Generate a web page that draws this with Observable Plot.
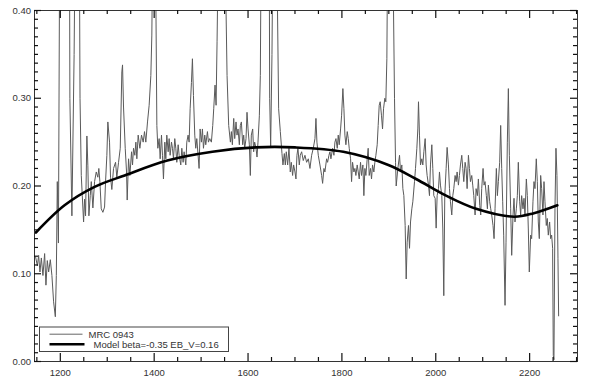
<!DOCTYPE html>
<html>
<head>
<meta charset="utf-8">
<script src="https://cdn.jsdelivr.net/npm/d3@7"></script>
<script src="https://cdn.jsdelivr.net/npm/@observablehq/plot@0.6"></script>
<style>
  html, body { margin: 0; padding: 0; background: #ffffff; }
  #chart { width: 591px; height: 385px; }
</style>
</head>
<body>
<div id="chart"></div>
<script>
const wavelength = [
  1147.4,1151.1,1153.8,1156.6,1159.6,1163.0,1166.6,1169.4,1172.3,1175.1,1178.7,1182.1,1185.7,1189.4,1191.5,1193.6,1196.0,
  1199.6,1205,1214,1218,1220.4,1224.7,1229.4,1231.9,1239.6,1242,1244.7,1246.8,1249.6,1251.7,1253.8,1256.6,1258.7,1260.9,
  1263.8,1266.0,1269.4,1273.0,1276.6,1280.0,1282.1,1284.3,1287.2,1290.7,1294.3,1296.4,1299.2,1301.3,1304.9,1307.0,1309.8,
  1313.4,1317.7,1320.4,1324.1,1327.7,1331.1,1332.6,1334.7,1338.3,1341.1,1342.5,1345.4,1348.2,1351.8,1353.9,1356.0,1358.8,
  1361.0,1363.1,1365.9,1369.5,1373.0,1376.6,1379.4,1382.2,1385.8,1389.3,1392.9,1395.0,1396.4,1400,1403.5,1405.7,1407.8,
  1410.6,1412.8,1415.6,1417.7,1419.8,1422.7,1424.8,1426.9,1429.8,1431.9,1434.0,1436.9,1439.0,1441.1,1443.9,1446.1,1448.2,
  1451.1,1453.2,1456.7,1458.9,1461.7,1463.8,1467.4,1469.5,1472.3,1474.5,1476.6,1479.4,1481.5,1483.7,1486.5,1488.6,1490.8,
  1493.6,1495.7,1497.9,1500.7,1502.8,1505.0,1507.8,1509.9,1513.5,1515.6,1518.4,1521.9,1524.8,1526.9,1529.7,1531.9,1534.0,
  1536.1,1545,1550,1551.7,1555.3,1558.8,1562.4,1564.5,1566.6,1569.5,1571.6,1574.4,1576.5,1578.7,1581.5,1583.6,1585.8,
  1588.6,1590.7,1592.9,1595.7,1597.8,1600.0,1602.8,1604.9,1607.0,1609.9,1612.0,1614.1,1617.0,1619.1,1621.2,1624.1,1626.2,
  1627.6,1635,1645,1646.1,1648.2,1651.0,1653.2,1660,1661.7,1665.2,1668.8,1672.3,1674.4,1677.3,1679.4,1681.5,1684.4,1687.2,
  1690.0,1692.2,1695.0,1697.1,1700.0,1702.1,1704.2,1706.3,1709.2,1711.3,1714.2,1717.7,1721.3,1724.8,1728.4,1731.9,1735.5,
  1739.0,1742.6,1744.7,1746.8,1749.7,1753.2,1756.8,1758.9,1761.7,1763.8,1767.4,1769.5,1772.4,1774.5,1776.6,1780.2,1783.0,
  1785.1,1787.3,1790.1,1792.2,1794.3,1797.2,1799.3,1802.1,1804.3,1806.4,1808.5,1811.4,1813.5,1815.6,1818.5,1820.6,1822.7,
  1825.6,1827.7,1829.8,1832.6,1834.8,1836.9,1839.7,1841.8,1844.7,1846.8,1849.0,1851.1,1853.9,1856.0,1858.2,1861.0,1863.1,
  1865.3,1868.1,1870.2,1872.4,1875.2,1877.3,1879.5,1881.6,1884.4,1886.6,1888.7,1891.5,1893.6,1895.8,1897.2,1900,1906,1908,
  1910.0,1912.1,1914.3,1915.7,1919.2,1922.8,1924.9,1927.7,1929.9,1932.0,1934.8,1937.0,1939.1,1941.9,1944.1,1946.2,1949.0,
  1951.1,1954.7,1956.8,1959.7,1961.8,1963.2,1965.3,1967.5,1970.3,1972.4,1974.6,1977.4,1979.5,1981.6,1984.5,1986.6,1988.7,
  1991.6,1993.7,1995.8,1998.7,2000.8,2002.9,2005.8,2007.9,2010.0,2012.9,2015.0,2017.1,2019.2,2022.1,2024.2,2027.0,2029.2,
  2031.3,2034.1,2036.3,2038.4,2041.2,2043.4,2045.5,2048.3,2050.4,2052.6,2055.4,2057.5,2059.7,2062.5,2064.6,2066.8,2069.6,
  2071.7,2073.9,2076.7,2078.8,2081.0,2083.8,2085.9,2088.7,2090.8,2093.7,2095.8,2097.9,2100.8,2102.9,2105.0,2107.8,2110.0,
  2112.1,2114.9,2117.1,2119.2,2122.0,2124.2,2126.3,2129.1,2131.3,2133.4,2136.2,2138.3,2140.5,2142.6,2144.7,2147.6,2149.7,
  2152.5,2154.7,2156.8,2159.6,2161.8,2164.6,2166.7,2168.8,2171.7,2173.8,2175.9,2178.8,2180.9,2183.0,2185.9,2188.0,2190.1,
  2193.0,2195.1,2197.2,2199.3,2202.2,2204.3,2207.1,2209.3,2211.4,2214.2,2216.4,2218.5,2220.6,2223.5,2225.6,2228.4,2230.6,
  2232.7,2235.5,2237.6,2239.8,2242.6,2244.7,2246.9,2249.0,2250.4,2251.8,2254.0,2256.1,2258.2,2260.4,2261.8
];
const flux = [
  0.119,0.109,0.121,0.102,0.118,0.098,0.123,0.087,0.115,0.102,0.116,0.098,0.068,0.051,0.098,0.205,0.135,
  0.6,0.9,1.2,0.8,0.3,0.166,0.35,0.5,0.6,0.3,0.212,0.189,0.159,0.185,0.166,0.257,0.223,0.166,
  0.189,0.205,0.175,0.205,0.216,0.21,0.22,0.205,0.174,0.17,0.176,0.205,0.235,0.273,0.25,0.21,0.196,
  0.22,0.227,0.21,0.227,0.243,0.33,0.338,0.29,0.243,0.216,0.184,0.231,0.212,0.239,0.224,0.243,0.235,
  0.250,0.231,0.258,0.243,0.258,0.250,0.262,0.250,0.273,0.292,0.326,0.372,0.45,0.55,0.42,0.269,0.243,
  0.254,0.231,0.258,0.235,0.208,0.250,0.231,0.258,0.239,0.254,0.235,0.250,0.243,0.231,0.254,0.243,0.227,
  0.247,0.235,0.224,0.243,0.227,0.239,0.224,0.250,0.258,0.250,0.288,0.318,0.345,0.303,0.258,0.243,0.254,
  0.235,0.220,0.265,0.250,0.265,0.243,0.258,0.247,0.262,0.250,0.254,0.250,0.269,0.288,0.315,0.292,0.365,
  0.45,0.8,0.7,0.45,0.326,0.269,0.250,0.262,0.247,0.277,0.254,0.273,0.258,0.265,0.247,0.269,0.273,
  0.247,0.258,0.243,0.254,0.284,0.265,0.247,0.212,0.258,0.265,0.239,0.250,0.243,0.233,0.250,0.280,0.326,
  0.45,0.6,0.5,0.3,0.245,0.35,0.5,0.6,0.45,0.288,0.262,0.237,0.224,0.237,0.224,0.239,0.224,0.243,
  0.216,0.227,0.212,0.224,0.216,0.208,0.235,0.243,0.224,0.235,0.239,0.229,0.235,0.227,0.231,0.220,0.235,
  0.243,0.254,0.277,0.250,0.235,0.224,0.212,0.203,0.220,0.216,0.231,0.227,0.235,0.239,0.231,0.243,0.235,
  0.250,0.254,0.243,0.258,0.247,0.265,0.280,0.311,0.288,0.258,0.247,0.262,0.254,0.243,0.231,0.205,0.227,
  0.216,0.220,0.212,0.224,0.216,0.208,0.227,0.212,0.224,0.189,0.220,0.212,0.231,0.243,0.212,0.220,0.208,
  0.224,0.216,0.227,0.235,0.247,0.269,0.292,0.296,0.280,0.265,0.288,0.300,0.296,0.345,0.45,0.7,0.75,0.6,
  0.40,0.30,0.227,0.200,0.220,0.235,0.216,0.224,0.197,0.189,0.155,0.094,0.136,0.155,0.129,0.159,0.174,
  0.182,0.205,0.220,0.243,0.265,0.296,0.258,0.224,0.231,0.224,0.239,0.254,0.224,0.212,0.201,0.189,0.224,
  0.247,0.220,0.189,0.186,0.152,0.189,0.197,0.216,0.201,0.189,0.151,0.075,0.189,0.220,0.244,0.224,0.197,
  0.182,0.167,0.189,0.197,0.212,0.205,0.216,0.201,0.212,0.224,0.235,0.220,0.205,0.227,0.220,0.197,0.235,
  0.220,0.205,0.212,0.201,0.189,0.167,0.197,0.189,0.208,0.178,0.167,0.197,0.220,0.201,0.205,0.189,0.174,
  0.201,0.182,0.174,0.167,0.155,0.140,0.174,0.220,0.189,0.205,0.227,0.269,0.220,0.182,0.144,0.064,0.136,
  0.250,0.311,0.235,0.174,0.121,0.167,0.186,0.159,0.174,0.189,0.227,0.182,0.167,0.189,0.174,0.186,0.167,
  0.208,0.189,0.151,0.102,0.144,0.140,0.182,0.205,0.197,0.231,0.205,0.159,0.140,0.212,0.197,0.167,0.205,
  0.182,0.155,0.163,0.144,0.159,0.140,0.144,0.129,0.007,0.002,0.174,0.243,0.212,0.117,0.052
];

// Model curve (beta = -0.35, E(B-V) = 0.16)
const modelWavelength = [1148,1209,1273,1337,1428,1524,1616,1700,1803,1899,1958,2022,2086,2167,2209,2259];
const modelFlux = [0.147,0.178,0.199,0.212,0.229,0.239,0.244,0.244,0.239,0.224,0.208,0.189,0.174,0.165,0.169,0.178];

// Axes
const xDomain = [1145, 2302];
const yDomain = [0, 0.4];
const xMajorTicks = [1200, 1400, 1600, 1800, 2000, 2200];
const xMinorTicks = [1150,1250,1300,1350,1450,1500,1550,1650,1700,1750,1850,1900,1950,2050,2100,2150,2250,2300];
const yMajorTicks = [0, 0.1, 0.2, 0.3, 0.4];
const yMinorTicks = [0.01,0.02,0.03,0.04,0.05,0.06,0.07,0.08,0.09,0.11,0.12,0.13,0.14,0.15,0.16,0.17,0.18,0.19,
  0.21,0.22,0.23,0.24,0.25,0.26,0.27,0.28,0.29,0.31,0.32,0.33,0.34,0.35,0.36,0.37,0.38,0.39];

// Legend
const legendLabels = ["MRC 0943", "Model beta=-0.35 EB_V=0.16"];

const spectrum = wavelength.map((w, i) => ({w, f: flux[i]}));
const model = modelWavelength.map((w, i) => ({w, f: modelFlux[i]}));

const ink = "#333";
const tickInk = "#111";
const font = "Liberation Sans, Arial, sans-serif";
const M = {left: 34, right: 14, top: 10, bottom: 24};
const W = 591, H = 385;
const innerW = W - M.left - M.right;
const innerH = H - M.top - M.bottom;

// inward ticks: full-frame ticks shrunk with insets to a few pixels at one edge
const xTick = (ticks, len, edge) => Plot.tickX(ticks, {x: d => d, stroke: tickInk, strokeWidth: 1.2,
  insetTop: edge === "bottom" ? innerH - len : 0, insetBottom: edge === "top" ? innerH - len : 0});
const yTick = (ticks, len, edge) => Plot.tickY(ticks, {y: d => d, stroke: tickInk, strokeWidth: 1.2,
  insetRight: edge === "left" ? innerW - len : 0, insetLeft: edge === "right" ? innerW - len : 0});

const chart = Plot.plot({
  width: W,
  height: H,
  marginLeft: M.left,
  marginRight: M.right,
  marginTop: M.top,
  marginBottom: M.bottom,
  style: {background: "white", color: ink, fontSize: "9.5px", fontFamily: font},
  x: {domain: xDomain},
  y: {domain: yDomain},
  marks: [
    Plot.line(spectrum, {x: "w", y: "f", stroke: "#5a5a5a", strokeWidth: 1, clip: true}),
    Plot.line(model, {x: "w", y: "f", stroke: "#000", strokeWidth: 2.6, curve: "catmull-rom", clip: true}),
    Plot.frame({stroke: ink}),
    xTick(xMajorTicks, 8, "bottom"), xTick(xMajorTicks, 8, "top"),
    xTick(xMinorTicks, 4, "bottom"), xTick(xMinorTicks, 4, "top"),
    yTick(yMajorTicks, 7, "left"), yTick(yMajorTicks, 7, "right"),
    yTick(yMinorTicks, 4, "left"), yTick(yMinorTicks, 4, "right"),
    Plot.axisY({ticks: yMajorTicks, anchor: "left", tickSize: 0, tickPadding: 3.5, tickFormat: ".2f", label: null}),
    Plot.axisX({ticks: xMajorTicks, anchor: "bottom", tickSize: 0, tickPadding: 8, tickFormat: d => String(d), label: null})
  ]
});

document.getElementById("chart").appendChild(chart);

(function addLegend() {
  // Legend box inside the lower-left corner of the frame
  const svg = d3.select(chart);
  const lg = svg.append("g").attr("font-family", font).attr("font-size", 9.5)
    .attr("text-anchor", "start").attr("fill", ink);
  const x0 = M.left + 5.5;
  const y0 = H - M.bottom - 34;
  lg.append("rect").attr("x", x0).attr("y", y0).attr("width", 189).attr("height", 24.5)
    .attr("fill", "white").attr("stroke", "#444").attr("stroke-width", 1);
  const rows = [
    {label: legendLabels[0], stroke: "#666", sw: 1, len: 33, tx: 49},
    {label: legendLabels[1], stroke: "#000", sw: 2.5, len: 35, tx: 54}
  ];
  rows.forEach((r, i) => {
    const yy = y0 + 7.2 + i * 10;
    lg.append("line").attr("x1", x0 + 10).attr("x2", x0 + 10 + r.len)
      .attr("y1", yy).attr("y2", yy).attr("stroke", r.stroke).attr("stroke-width", r.sw);
    lg.append("text").attr("x", x0 + r.tx).attr("y", yy).attr("dy", "0.35em").text(r.label);
  });
})();
</script>
</body>
</html>
